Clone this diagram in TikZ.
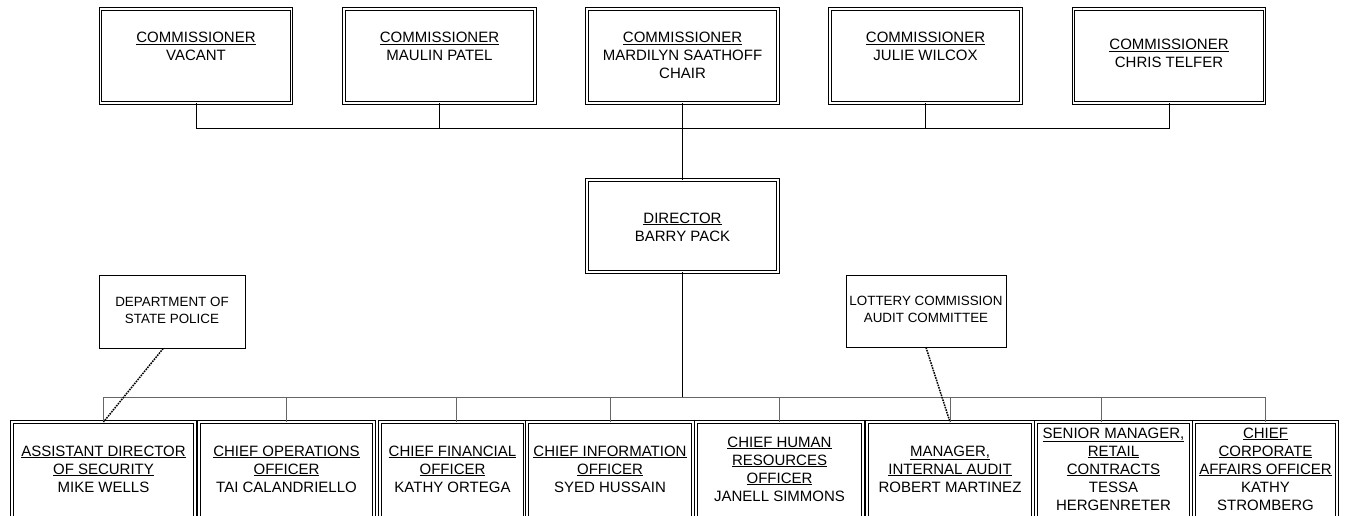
\documentclass[tikz,border=0pt]{standalone}
\usepackage{fontspec}
\setmainfont{Liberation Sans}
\usetikzlibrary{calc}
\newcommand{\orgt}[1]{\begin{tabular}[t]{@{}c@{}}#1\end{tabular}}
\newcommand{\orgc}[1]{\begin{tabular}{@{}c@{}}#1\end{tabular}}
\begin{document}
\begin{tikzpicture}[x=1pt,y=-1pt,
  dbl/.style={draw=black, double=white, double distance=1.8pt, line width=1pt, inner sep=0pt, outer sep=0pt},
  combox/.style={dbl, minimum width=191pt, minimum height=94pt},
  staffbox/.style={dbl, minimum height=96.8pt, font=\fontsize{15}{18}\selectfont},
  sidebox/.style={draw=black, line width=1pt, inner sep=0pt, font=\fontsize{13.4}{17}\selectfont},
  ttl/.style={inner sep=0pt, font=\fontsize{15}{18}\selectfont},
  conn/.style={draw=black, line width=1pt},
  gconn/.style={draw=black!60, line width=0.9pt},
  dotline/.style={draw=black, line width=1.5pt, dash pattern=on 1.6pt off 1pt}]
\useasboundingbox (0,0) rectangle (1348,516);
\clip (0,0) rectangle (1348,516);
\fill[white] (0,0) rectangle (1348,516);

% commissioners
\node[combox] (c1) at (196,56) {};
\node[combox] (c2) at (439.5,56) {};
\node[combox] (c3) at (682.5,56) {};
\node[combox] (c4) at (925.5,56) {};
\node[combox] (c5) at (1169,56) {};
\node[ttl, anchor=base] (c1t) at (196,43) {\orgt{\underline{COMMISSIONER}\\VACANT}};
\node[ttl, anchor=base] (c2t) at (439.5,43) {\orgt{\underline{COMMISSIONER}\\MAULIN PATEL}};
\node[ttl, anchor=base] (c3t) at (682.5,43) {\orgt{\underline{COMMISSIONER}\\MARDILYN SAATHOFF\\CHAIR}};
\node[ttl, anchor=base] (c4t) at (925.5,43) {\orgt{\underline{COMMISSIONER}\\JULIE WILCOX}};
\node[ttl, anchor=base] (c5t) at (1169,50) {\orgt{\underline{COMMISSIONER}\\CHRIS TELFER}};

% director
\node[dbl, minimum width=191pt, minimum height=92pt] (dir) at (682.5,226) {};
\node[ttl, anchor=base] (dirt) at (682.5,223) {\orgt{\underline{DIRECTOR}\\BARRY PACK}};

% side boxes
\node[sidebox, minimum width=146pt, minimum height=73pt] (police) at (172,311.5) {\orgc{DEPARTMENT OF\\STATE POLICE}};
\node[sidebox, minimum width=160pt, minimum height=72pt] (lottery) at (926,311) {\orgc{LOTTERY COMMISSION\\AUDIT COMMITTEE}};

% staff
\node[staffbox, minimum width=183pt] (b1) at (103.5,470.4) {\orgc{\underline{ASSISTANT DIRECTOR}\\\underline{OF SECURITY}\\MIKE WELLS}};
\node[staffbox, minimum width=175pt] (b2) at (286.5,470.4) {\orgc{\underline{CHIEF OPERATIONS}\\\underline{OFFICER}\\TAI CALANDRIELLO}};
\node[staffbox, minimum width=145pt] (b3) at (452.5,470.4) {\orgc{\underline{CHIEF FINANCIAL}\\\underline{OFFICER}\\KATHY ORTEGA}};
\node[staffbox, minimum width=166pt] (b4) at (610,470.4) {\orgc{\underline{CHIEF INFORMATION}\\\underline{OFFICER}\\SYED HUSSAIN}};
\node[staffbox, minimum width=167pt] (b5) at (779.5,470.4) {\orgc{\underline{CHIEF HUMAN}\\\underline{RESOURCES}\\\underline{OFFICER}\\JANELL SIMMONS}};
\node[staffbox, minimum width=166pt] (b6) at (950,470.4) {\orgc{\underline{MANAGER,}\\\underline{INTERNAL AUDIT}\\ROBERT MARTINEZ}};
\node[staffbox, minimum width=155pt] (b7) at (1113.5,470.4) {\orgc{\underline{SENIOR MANAGER,}\\\underline{RETAIL}\\\underline{CONTRACTS}\\TESSA\\HERGENRETER}};
\node[staffbox, minimum width=143pt] (b8) at (1265.5,470.4) {\orgc{\underline{CHIEF}\\\underline{CORPORATE}\\\underline{AFFAIRS OFFICER}\\KATHY\\STROMBERG}};

% top bus
\coordinate (tb) at (0,128);
\draw[conn] (c1.south) -- (c1.south |- tb) -- (c5.south |- tb) -- (c5.south);
\draw[conn] (c2.south) -- (c2.south |- tb);
\draw[conn] (c4.south) -- (c4.south |- tb);
\draw[conn] (c3.south) -- (dir.north);

% bottom bus
\coordinate (bb) at (0,397);
\draw[conn] (dir.south) -- (dir.south |- bb);
\draw[gconn] (b1.north) -- (b1.north |- bb) -- (b8.north |- bb) -- (b8.north);
\draw[gconn] (b2.north) -- (b2.north |- bb);
\draw[gconn] ([xshift=3.5pt]b3.north) -- ([xshift=3.5pt]b3.north |- bb);
\draw[gconn] (b4.north) -- (b4.north |- bb);
\draw[gconn] (b5.north) -- (b5.north |- bb);
\draw[gconn] (b6.north) -- (b6.north |- bb);
\draw[gconn] ([xshift=-12.5pt]b7.north) -- ([xshift=-12.5pt]b7.north |- bb);

% dotted advisory lines
\draw[dotline] ($(police.south west)!0.44!(police.south east)$) -- (b1.north);
\draw[dotline] (lottery.south) -- (b6.north);
\end{tikzpicture}
\end{document}
